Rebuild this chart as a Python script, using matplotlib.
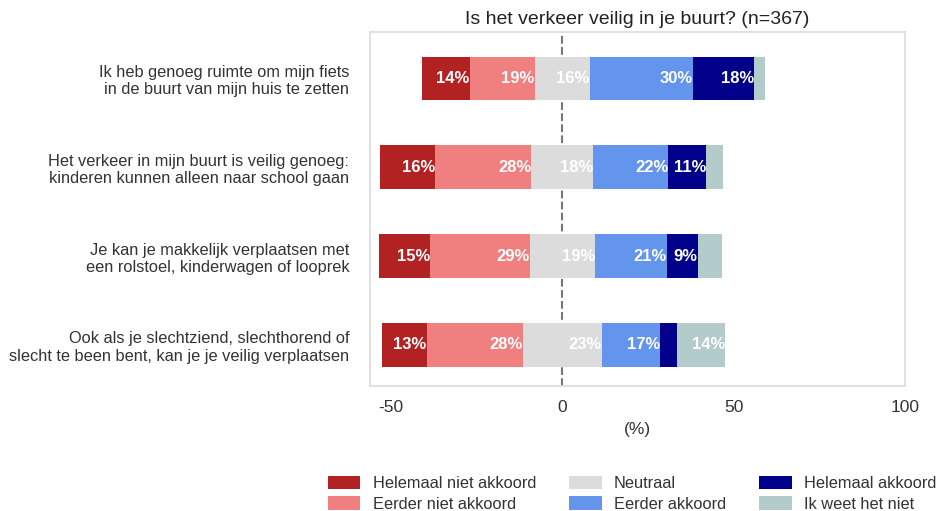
import matplotlib.pyplot as plt
import numpy as np

plt.rcParams['font.family'] = ['Liberation Sans', 'DejaVu Sans']
plt.rcParams['axes.unicode_minus'] = False

# ---------------- data ----------------
questions = [
    "Ik heb genoeg ruimte om mijn fiets\nin de buurt van mijn huis te zetten",
    "Het verkeer in mijn buurt is veilig genoeg:\nkinderen kunnen alleen naar school gaan",
    "Je kan je makkelijk verplaatsen met\neen rolstoel, kinderwagen of looprek",
    "Ook als je slechtziend, slechthorend of\nslecht te been bent, kan je je veilig verplaatsen",
]
answers = ["Helemaal niet akkoord", "Eerder niet akkoord", "Neutraal",
           "Eerder akkoord", "Helemaal akkoord", "Ik weet het niet"]

helemaal_niet = [14, 16, 15, 13]
eerder_niet = [19, 28, 29, 28]
neutraal = [16, 18, 19, 23]
eerder_akkoord = [30, 22, 21, 17]
helemaal_akkoord = [18, 11, 9, 5]
weet_niet = [3, 5, 7, 14]

title = "Is het verkeer veilig in je buurt? (n=367)"

colors = ["#b22222", "#f08080", "#dcdcdc", "#6495ed", "#00008b", "#b3cbcb"]

# ---------------- plot ----------------
series = np.array([helemaal_niet, eerder_niet, neutraal,
                   eerder_akkoord, helemaal_akkoord, weet_niet], dtype=float)
# neutral block centred on zero
start = -(series[0] + series[1] + series[2] / 2)

fig = plt.figure(figsize=(9.37, 5.11), dpi=100)
ax = fig.add_axes([0.395, 0.245, 0.571, 0.692])

ypos = np.arange(len(questions))
ax.axvline(0, color="#777777", linestyle="--", linewidth=1.5, zorder=1)

left = start.copy()
for k in range(len(answers)):
    vals = series[k]
    ax.barh(ypos, vals, left=left, height=0.49, color=colors[k],
            label=answers[k], zorder=2)
    for i, v in enumerate(vals):
        if v >= 8:
            ax.text(left[i] + v, ypos[i], f"{int(v)}%", ha="right", va="center",
                    color="white", fontsize=12, fontweight="bold", zorder=3)
    left = left + vals

ax.set_xlim(-56, 100)
ax.set_ylim(3.46, -0.52)
ax.set_xticks([-50, 0, 50, 100])
ax.set_yticks(ypos)
ax.set_yticklabels(questions, fontsize=11.8, color="#333333")
ax.tick_params(axis="x", labelsize=12.5, colors="#333333", length=0, pad=10)
ax.tick_params(axis="y", length=0, pad=15)
for s in ax.spines.values():
    s.set_color("#dcdcdc")
    s.set_linewidth(1.2)
ax.set_xlabel("(%)", fontsize=12.5, color="#333333", labelpad=5)
ax.set_title(title, fontsize=14, color="#222222", pad=6)

fig.legend(loc="lower right", bbox_to_anchor=(1.015, -0.03), ncol=3, frameon=False,
           fontsize=11.8, handlelength=2.0, handleheight=0.9, columnspacing=2.0,
           labelspacing=0.3, handletextpad=0.75, labelcolor="#333333")

fig.savefig("out.png", dpi=100)
